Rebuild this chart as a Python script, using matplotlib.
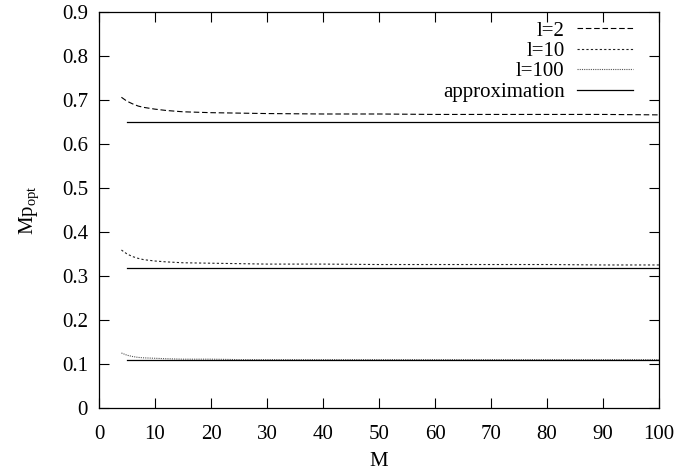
import matplotlib
matplotlib.use("Agg")
import matplotlib.pyplot as plt
import matplotlib.ticker as mticker

# data
M = [4, 5, 6, 7, 8, 10, 12, 15, 20, 25, 30, 40, 50, 60, 70, 80, 90, 100]
l2 = [0.706, 0.697, 0.691, 0.686, 0.683, 0.679, 0.676, 0.673, 0.671, 0.670,
      0.669, 0.668, 0.668, 0.667, 0.667, 0.667, 0.667, 0.666]
l10 = [0.359, 0.350, 0.344, 0.340, 0.337, 0.334, 0.332, 0.330, 0.329, 0.328,
       0.327, 0.327, 0.326, 0.326, 0.326, 0.326, 0.325, 0.325]
l100 = [0.125, 0.120, 0.117, 0.115, 0.114, 0.113, 0.112, 0.111, 0.111, 0.110,
        0.110, 0.110, 0.110, 0.110, 0.110, 0.110, 0.110, 0.110]

M_approx = [5, 100]
approx_levels = [0.650, 0.317, 0.108]

x_ticks = list(range(0, 101, 10))
y_ticks = [0, 0.1, 0.2, 0.3, 0.4, 0.5, 0.6, 0.7, 0.8, 0.9]

plt.rcParams.update({
    "font.family": "Liberation Serif",
    "font.size": 15,
    "mathtext.fontset": "custom",
    "mathtext.rm": "Liberation Serif",
    "mathtext.it": "Liberation Serif:italic",
})

fig = plt.figure(figsize=(6.89, 4.75), dpi=100)
ax = fig.add_axes([0.1437, 0.141, 0.8128, 0.834])

ax.plot(M, l2, color="black", lw=0.8, dashes=(5, 2.5), label="l=2")
ax.plot(M, l10, color="#222222", lw=0.8, dashes=(2, 2), label="l=10")
ax.plot(M, l100, color="#555555", lw=0.8, dashes=(1, 1), label="l=100")
for i, lev in enumerate(approx_levels):
    ax.plot(M_approx, [lev, lev], color="black", lw=0.9,
            label="approximation" if i == 0 else None)

ax.set_xlim(0, 100)
ax.set_ylim(0, 0.9)
ax.set_xticks(x_ticks)
ax.set_yticks(y_ticks)
ax.yaxis.set_major_formatter(mticker.FuncFormatter(lambda v, p: f"{v:g}"))
ax.tick_params(direction="in", length=7, width=0.8, top=True, right=True)
ax.tick_params(axis="x", pad=12)
ax.tick_params(axis="y", pad=8)
for s in ax.spines.values():
    s.set_linewidth(0.9)

ax.set_xlabel("M", labelpad=6)
ax.set_ylabel(r"Mp$_{\rm opt}$", labelpad=15)

ax.legend(loc="upper right", bbox_to_anchor=(0.9536, 0.977), frameon=False,
          markerfirst=False, handlelength=2.7, handletextpad=0.58,
          labelspacing=0.04, borderaxespad=0, borderpad=0, fontsize=15)

fig.savefig("out.png", dpi=100, facecolor="white")
